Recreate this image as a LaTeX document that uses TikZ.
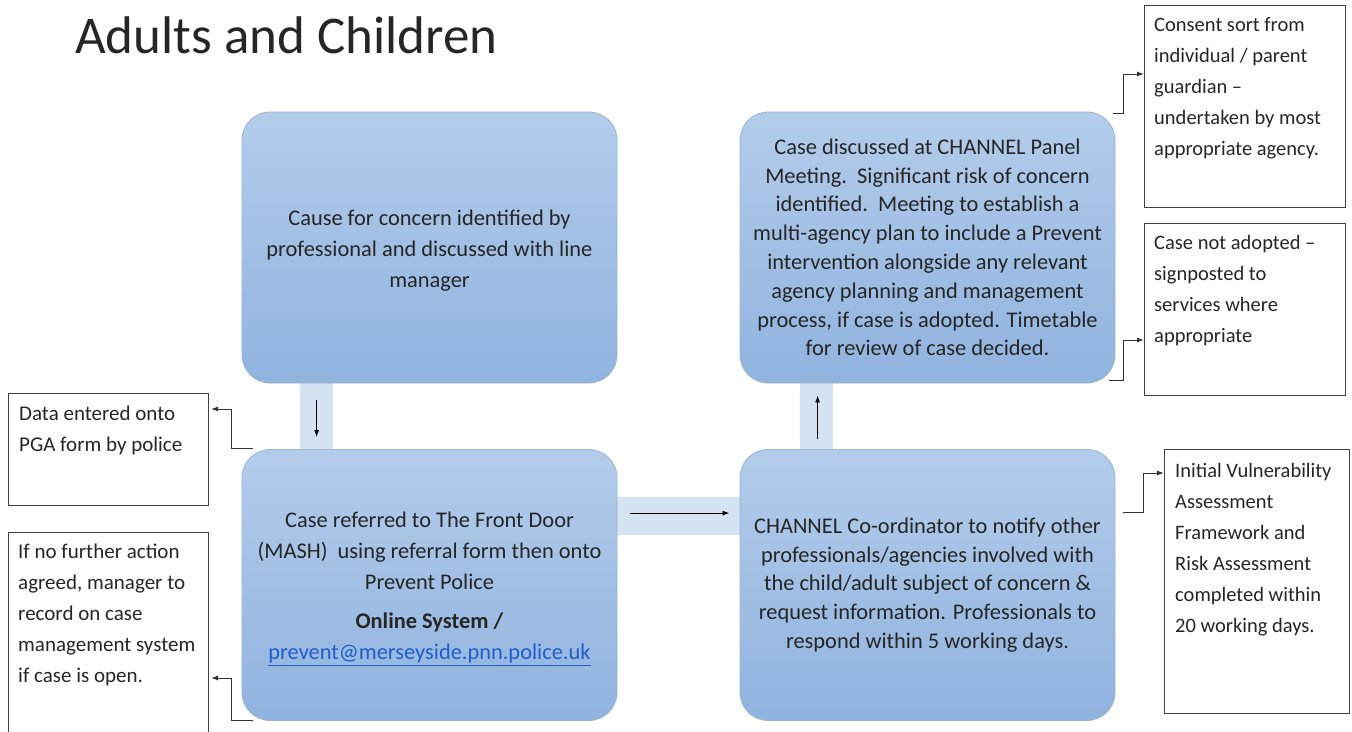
\documentclass[tikz,border=0pt]{standalone}
\usepackage{fontspec}
\setmainfont{Carlito}
\usetikzlibrary{calc,arrows.meta}
\definecolor{boxtop}{HTML}{B3CCEB}
\definecolor{boxbot}{HTML}{90B3DF}
\definecolor{boxedge}{HTML}{9FB5D0}
\definecolor{band}{HTML}{D6E3F3}
\definecolor{txt}{HTML}{262626}
\definecolor{link}{HTML}{1F5FC8}
\tikzset{
  bluebox/.style={rounded corners=28pt, top color=boxtop, bottom color=boxbot, draw=boxedge, line width=0.8pt,
    minimum width=375pt, minimum height=271pt, inner sep=0pt},
  btext/.style={inner sep=0pt, align=center, text=txt},
  bandrect/.style={fill=band, draw=none},
  wbox/.style={draw=black!75, line width=1pt, fill=white, inner sep=0pt, anchor=north west},
  wtext/.style={anchor=north west, align=left, text=txt, inner sep=0pt, font=\fontsize{20.5}{31}\selectfont},
  arr/.style={-{Latex[length=7pt,width=5pt]}, line width=1pt, black},
  elb/.style={-{Latex[length=7pt,width=5pt]}, line width=1pt, black!80},
}
\begin{document}
\begin{tikzpicture}[x=1pt,y=-1pt]
\useasboundingbox (0,0) rectangle (1352,731);
\clip (0,0) rectangle (1352,731);
\fill[white] (0,0) rectangle (1352,731);
% title
\node[anchor=base west, inner sep=0pt, text=black!85, font=\fontsize{53}{58}\selectfont] (title) at (75,53) {Adults and Children};
% bands
\fill[bandrect] (300,378) rectangle (333,455);
\fill[bandrect] (612,497) rectangle (745,535);
\fill[bandrect] (800,378) rectangle (833,455);
% blue boxes
\node[bluebox] (A) at (429.5,247.5) {};
\node[btext, font=\fontsize{22.4}{31}\selectfont] (At) at ($(A.center)+(0,3)$) {Cause for concern identified by\\professional and discussed with line\\manager};
\node[bluebox] (B) at (429.5,585) {};
\node[btext, font=\fontsize{22.4}{31}\selectfont] (Bt) at ($(B.center)+(0,4)$) {Case referred to The Front Door\\(MASH)\ \ using referral form then onto\\Prevent Police\\[8pt]\textbf{Online System /}\\\textcolor{link}{\underline{prevent@merseyside.pnn.police.uk}}};
\node[bluebox] (C) at (927.5,585) {};
\node[btext, font=\fontsize{22.4}{28.7}\selectfont] (Ct) at (C.center) {CHANNEL Co-ordinator to notify other\\professionals/agencies involved with\\the child/adult subject of concern \&\\request information. Professionals to\\respond within 5 working days.};
\node[bluebox] (D) at (927.5,247.5) {};
\node[btext, font=\fontsize{22.4}{28.8}\selectfont] (Dt) at (D.center) {Case discussed at CHANNEL Panel\\Meeting.\ \ Significant risk of concern\\identified.\ \ Meeting to establish a\\multi-agency plan to include a Prevent\\intervention alongside any relevant\\agency planning and management\\process, if case is adopted. Timetable\\for review of case decided.};
% white boxes
\node[wbox, minimum width=200pt, minimum height=112pt] (pga) at (8,393) {};
\node[wtext, font=\fontsize{21}{31}\selectfont] (pgat) at ($(pga.north west)+(11,13)$) {Data entered onto\\PGA form by police};
\node[wbox, minimum width=200pt, minimum height=260pt] (nfa) at (8,532) {};
\node[wtext, font=\fontsize{21}{31}\selectfont] (nfat) at ($(nfa.north west)+(10,12)$) {If no further action\\agreed, manager to\\record on case\\management system\\if case is open.};
\node[wbox, minimum width=201pt, minimum height=202pt] (cons) at (1144,5) {};
\node[wtext] (const) at ($(cons.north west)+(10,12)$) {Consent sort from\\individual / parent\\guardian --\\undertaken by most\\appropriate agency.};
\node[wbox, minimum width=201pt, minimum height=172pt] (nad) at (1144,223) {};
\node[wtext] (nadt) at ($(nad.north west)+(10,12)$) {Case not adopted --\\signposted to\\services where\\appropriate};
\node[wbox, minimum width=185pt, minimum height=264pt] (iva) at (1164,449) {};
\node[wtext] (ivat) at ($(iva.north west)+(11,14)$) {Initial Vulnerability\\Assessment\\Framework and\\Risk Assessment\\completed within\\20 working days.};
% main arrows
\draw[arr] ($(A.south west)+(75,17)$) -- ($(B.north west)+(75,-12)$);
\draw[arr] ($(B.north east)+(13,64)$) -- ($(C.north west)+(-10,64)$);
\draw[arr] ($(C.north west)+(78,-10)$) -- ($(D.south west)+(78,12)$);
% elbow connectors
\draw[elb] ($(B.north west)+(11,-1)$) -- ++(-21,0) |- ($(pga.north east)+(2,16)$);
\draw[elb] ($(B.south west)+(11,0)$) -- ++(-21,0) |- ($(nfa.north east)+(2,146)$);
\draw[elb] ($(D.north east)+(-2,2)$) -- ++(10,0) |- ($(cons.north west)+(0,69)$);
\draw[elb] ($(D.south east)+(-6,-3)$) -- ++(14,0) |- ($(nad.north west)+(0,117)$);
\draw[elb] ($(C.north east)+(8,63)$) -- ++(20,0) |- ($(iva.north west)+(0,24)$);
\end{tikzpicture}
\end{document}
